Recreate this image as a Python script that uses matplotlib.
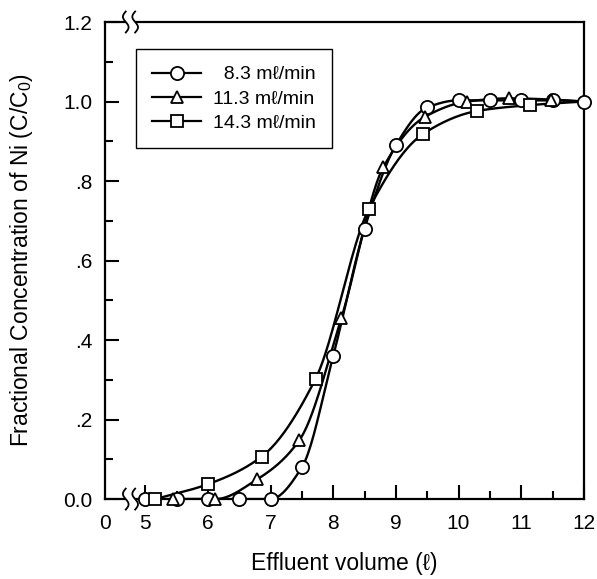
import numpy as np
import matplotlib
matplotlib.use("Agg")
import matplotlib.pyplot as plt
from matplotlib.patches import Rectangle

plt.rcParams['font.family'] = ['Liberation Sans', 'DejaVu Sans']
plt.rcParams['mathtext.fontset'] = 'custom'
plt.rcParams['mathtext.rm'] = 'Liberation Sans'
plt.rcParams['mathtext.it'] = 'Liberation Sans:italic'

# ---- data ----
x_83 = [5.0, 5.5, 6.0, 6.5, 7.0, 7.5, 8.0, 8.5, 9.0, 9.5, 10.0, 10.5, 11.0, 11.5, 12.0]
y_83 = [0.0, 0.0, 0.0, 0.0, 0.0, 0.08, 0.36, 0.68, 0.89, 0.985, 1.003, 1.003, 1.003, 1.003, 1.0]

x_113 = [5.45, 6.12, 6.79, 7.46, 8.13, 8.80, 9.47, 10.14, 10.81, 11.48]
y_113 = [0.0, 0.0, 0.05, 0.148, 0.455, 0.835, 0.962, 1.0, 1.008, 1.005]

x_143 = [5.16, 6.01, 6.86, 7.72, 8.57, 9.44, 10.29, 11.14]
y_143 = [0.0, 0.038, 0.107, 0.303, 0.730, 0.919, 0.976, 0.991]

line_end = (12.0, 1.0)  # all curves run to the last point

labels = ['  8.3 m\u2113/min', '11.3 m\u2113/min', '14.3 m\u2113/min']
markers = ['o', '^', 's']
msizes = [9.5, 9, 8.5]

xticks = [5, 6, 7, 8, 9, 10, 11, 12]
yticks = [0.0, 0.2, 0.4, 0.6, 0.8, 1.0, 1.2]
ytick_labels = ['0.0', '.2', '.4', '.6', '.8', '1.0', '1.2']
x_left = 4.36


def smooth(x, y, n=300):
    x = np.asarray(x, float); y = np.asarray(y, float)
    h = np.diff(x); d = np.diff(y) / h
    m = np.zeros_like(x)
    m[0] = d[0]; m[-1] = d[-1]
    for k in range(1, len(x) - 1):
        if d[k - 1] * d[k] <= 0:
            m[k] = 0.0
        else:
            w1 = 2 * h[k] + h[k - 1]; w2 = h[k] + 2 * h[k - 1]
            m[k] = (w1 + w2) / (w1 / d[k - 1] + w2 / d[k])
    xs = np.linspace(x[0], x[-1], n)
    idx = np.clip(np.searchsorted(x, xs) - 1, 0, len(x) - 2)
    t = (xs - x[idx]) / h[idx]
    h00 = 2 * t**3 - 3 * t**2 + 1; h10 = t**3 - 2 * t**2 + t
    h01 = -2 * t**3 + 3 * t**2; h11 = t**3 - t**2
    ys = h00 * y[idx] + h10 * h[idx] * m[idx] + h01 * y[idx + 1] + h11 * h[idx] * m[idx + 1]
    return xs, ys


fig = plt.figure(figsize=(5.97, 5.79), dpi=100)
ax = fig.add_axes([0.176, 0.138, 0.802, 0.824])

series = [(x_83, y_83, False), (x_113, y_113, True), (x_143, y_143, True)]
handles = []
for (xs, ys, extend), mk, ms, lab in zip(series, markers, msizes, labels):
    lx = list(xs) + ([line_end[0]] if extend else [])
    ly = list(ys) + ([line_end[1]] if extend else [])
    sx, sy = smooth(lx, ly)
    ax.plot(sx, sy, color='black', lw=1.7, zorder=3)
    ax.plot(xs, ys, linestyle='none', marker=mk, ms=ms, mfc='white', mec='black',
            mew=1.3, zorder=4, clip_on=False)
    h, = ax.plot([], [], color='black', lw=1.6, marker=mk, ms=ms, mfc='white',
                 mec='black', mew=1.3, label=lab)
    handles.append(h)

ax.set_xlim(x_left, 12)
ax.set_ylim(0, 1.2)
ax.set_xticks([x_left] + xticks)
ax.set_xticklabels(['0'] + [str(v) for v in xticks])
ax.set_xticks(np.arange(5.5, 12, 0.5), minor=True)
ax.set_yticks(yticks)
ax.set_yticklabels(ytick_labels)
ax.set_yticks(np.arange(0.1, 1.2, 0.2), minor=True)

ax.tick_params(which='both', direction='in', width=1.5, labelsize=15, top=False, right=False)
ax.tick_params(which='major', length=10)
ax.tick_params(which='minor', length=6)
ax.tick_params(axis='x', pad=11)
ax.tick_params(axis='y', pad=9)
ax.xaxis.get_major_ticks()[0].tick1line.set_visible(False)
for s in ax.spines.values():
    s.set_linewidth(1.6)

ax.set_xlabel('Effluent volume (\u2113)', fontsize=16.5)
ax.set_ylabel('Fractional Concentration of Ni (C/C$_0$)', fontsize=16.5)
ax.xaxis.set_label_coords(0.5, -0.111)
ax.yaxis.set_label_coords(-0.146, 0.5)

# axis-break symbols on bottom and top spines
trans = ax.get_xaxis_transform()
for yb in (0.0, 1.0):
    ax.add_patch(Rectangle((4.70, yb - 0.02), 0.13, 0.04, transform=trans,
                           facecolor='white', edgecolor='none', zorder=5, clip_on=False))
    s = np.linspace(-1, 1, 60)
    for x0 in (4.69, 4.84):
        ax.plot(x0 - 0.045 * np.sin(np.pi * s), yb + 0.022 * s, color='black', lw=1.3,
                transform=trans, zorder=6, clip_on=False)

leg = ax.legend(handles=handles, loc='upper left', bbox_to_anchor=(0.064, 0.943),
                borderaxespad=0, fontsize=14, handlelength=2.5, frameon=True,
                fancybox=False, edgecolor='black', framealpha=1, borderpad=0.85,
                labelspacing=0.34, handletextpad=0.6)
leg.get_frame().set_linewidth(1.0)

fig.savefig('out.png', dpi=100)
